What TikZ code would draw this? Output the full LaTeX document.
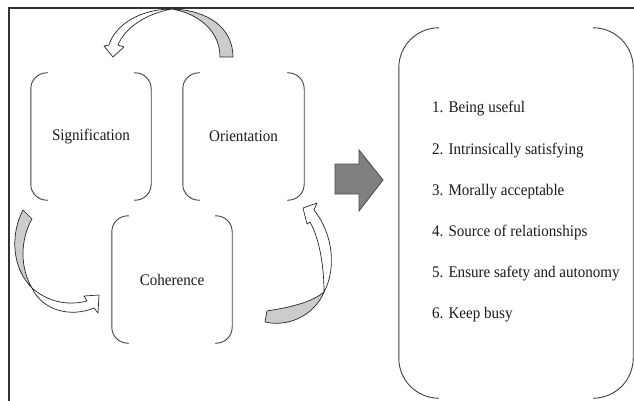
\documentclass[tikz,border=0pt]{standalone}
\usepackage{fontspec}
\setmainfont[FakeStretch=0.93]{Liberation Serif}
\begin{document}
\begin{tikzpicture}[x=1pt,y=-1pt,
  bracket/.style={draw=black!75, line width=0.9pt},
  lbl/.style={font=\fontsize{16.2}{19}\selectfont, text=black!90},
  ribbon/.style={draw=black!85, line width=0.7pt, line join=round},
  frame/.style={draw=black!80, line width=2.4pt}]
\newcommand\brk[3]{%
 \draw[bracket, rounded corners=#2] ([xshift=#3]#1.north west) -- (#1.north west) -- (#1.south west) -- ([xshift=#3]#1.south west);
 \draw[bracket, rounded corners=#2] ([xshift=-#3]#1.north east) -- (#1.north east) -- (#1.south east) -- ([xshift=-#3]#1.south east);}
\useasboundingbox (0,0) rectangle (634,401);
% frame (top and left edges only)
\coordinate (ftl) at (9,8);
\coordinate (ftr) at (634,8);
\coordinate (fbl) at (9,401);
\draw[frame] (ftr) -- (ftl) -- (fbl);
% boxes
\node[lbl, inner sep=0pt, minimum width=120pt, minimum height=127pt] (sig) at (91,136.5) {Signification};
\node[lbl, inner sep=0pt, minimum width=121pt, minimum height=127pt] (ori) at (243.5,136.5) {Orientation};
\node[lbl, inner sep=0pt, minimum width=120pt, minimum height=127pt] (coh) at (172,279.5) {Coherence};
\node[inner sep=0pt, minimum width=234pt, minimum height=370pt] (list) at (516,213) {};
\brk{sig}{16pt}{17pt}
\brk{ori}{16pt}{17pt}
\brk{coh}{16pt}{17pt}
\brk{list}{40pt}{39pt}
% list items
\node[lbl, anchor=base west, inner sep=0pt] (l1) at (432,113) {1. Being useful};
\node[lbl, anchor=base west, inner sep=0pt] (l2) at (432,154) {2. Intrinsically satisfying};
\node[lbl, anchor=base west, inner sep=0pt] (l3) at (432,195) {3. Morally acceptable};
\node[lbl, anchor=base west, inner sep=0pt] (l4) at (432,236) {4. Source of relationships};
\node[lbl, anchor=base west, inner sep=0pt] (l5) at (432,277) {5. Ensure safety and autonomy};
\node[lbl, anchor=base west, inner sep=0pt] (l6) at (432,318) {6. Keep busy};
% big block arrow
\draw[fill=black!50, draw=black!70, line width=0.8pt, line join=miter]
  (335,164) -- (359,164) -- (359,150) -- (383,180) -- (359,211) -- (359,194) -- (335,194) -- cycle;
% top curved arrow (Orientation -> Signification)
\draw[ribbon, fill=black!20] (220,57) -- (233,57) .. controls (233,28) and (208,10) .. (172,9) .. controls (200,14) and (220,32) .. (220,57) -- cycle;
\draw[ribbon, fill=white] (172,9) .. controls (140,9) and (115,25) .. (109,45) -- (104,46) -- (113,57) -- (124,47) -- (118,45) .. controls (125,28) and (145,14) .. (172,9) -- cycle;
% left curved arrow (Signification -> Coherence)
\draw[ribbon, fill=black!20] (23,210) -- (32,219) .. controls (20,240) and (20,268) .. (32,288) .. controls (12,268) and (10,235) .. (23,210) -- cycle;
\draw[ribbon, fill=white] (32,288) .. controls (48,302) and (68,306) .. (87,301) -- (84,296) -- (99,295) -- (98,313) -- (94,308) .. controls (70,318) and (42,310) .. (32,288) -- cycle;
% right curved arrow (Coherence -> Orientation)
\draw[ribbon, fill=black!20] (267,311) .. controls (292,307) and (312,302) .. (324,292) .. controls (316,312) and (292,328) .. (265,322) -- cycle;
\draw[ribbon, fill=white] (324,292) .. controls (336,270) and (334,235) .. (314,210) -- (317,203) -- (303,208) -- (307,224) -- (310,222) .. controls (320,240) and (324,268) .. (324,292) -- cycle;
\end{tikzpicture}
\end{document}
